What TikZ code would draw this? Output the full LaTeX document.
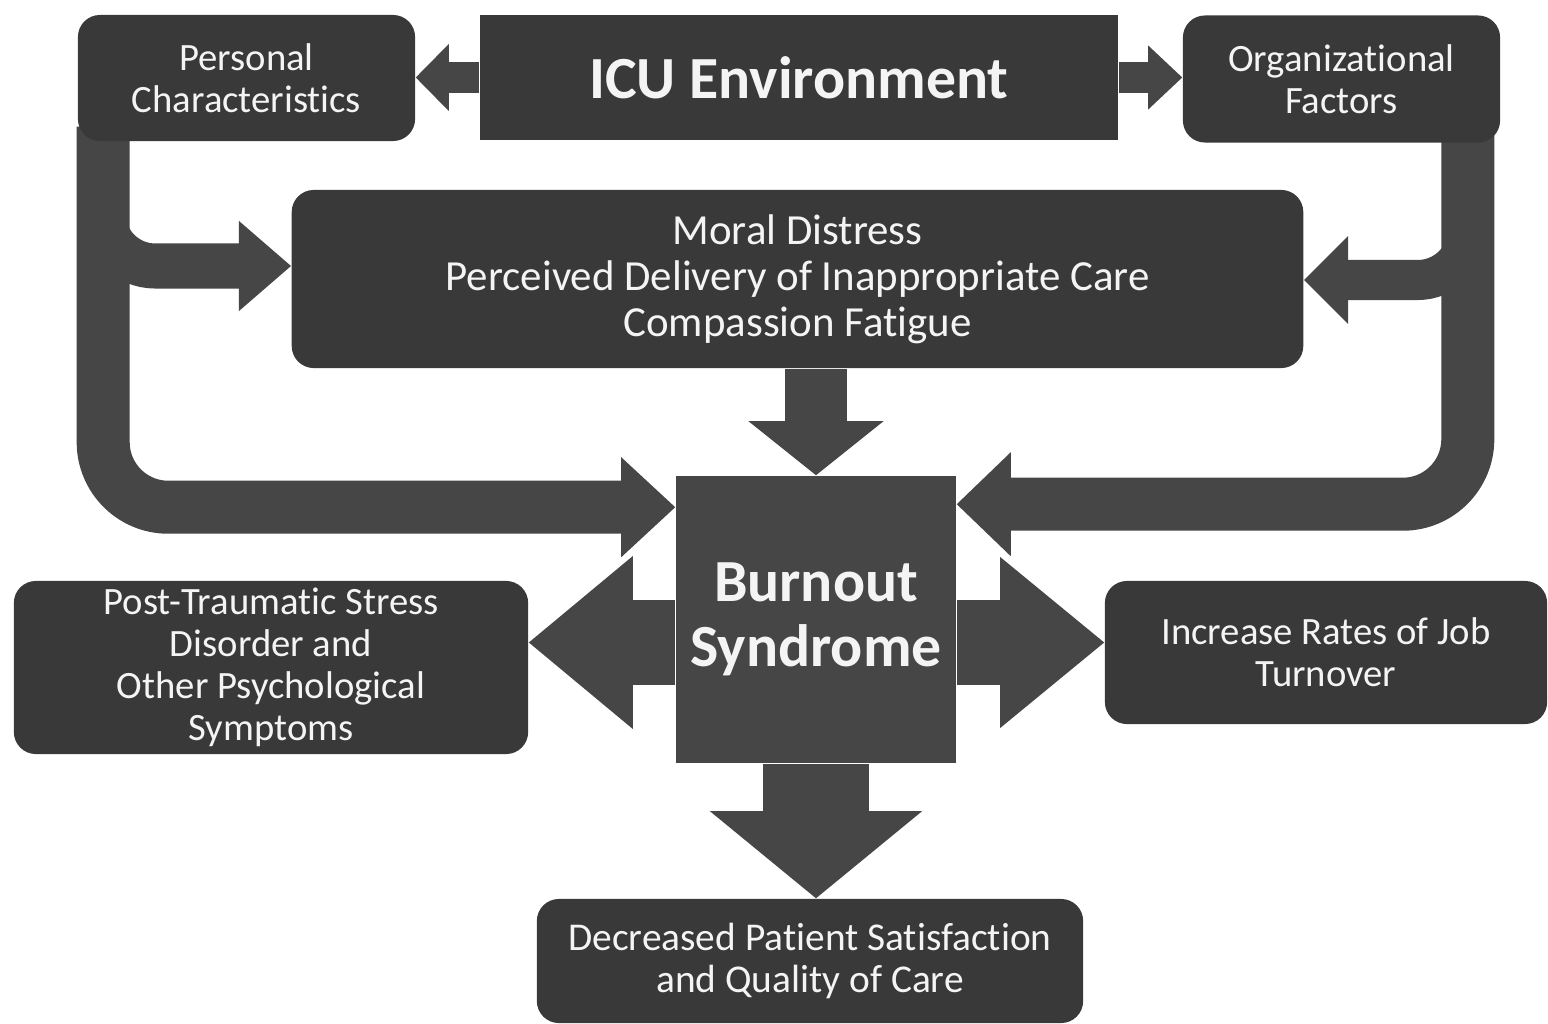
\documentclass[tikz,border=0pt]{standalone}
\usepackage{fontspec}
\setmainfont{Carlito}[Ligatures={NoCommon}]
\usetikzlibrary{arrows.meta,calc,positioning,backgrounds}
\definecolor{boxgray}{RGB}{57,57,57}
\definecolor{arrowgray}{RGB}{70,70,70}
\definecolor{textwhite}{RGB}{244,244,244}

\begin{document}
\begin{tikzpicture}[x=0.01cm,y=-0.01cm,
  box/.style={fill=boxgray,rounded corners=0.22cm,text=textwhite,align=center,inner sep=0pt},
  sqbox/.style={box,sharp corners},
  small/.style={font=\fontsize{11}{12}\selectfont},
  fat/.style n args={3}{draw=arrowgray,line width=#1,-{Triangle[length=#2,width=#3,line width=0pt]}}]
  \begin{scope}[on background layer]
    \fill[white] (0,0) rectangle (1548,1024);
  \end{scope}
  \useasboundingbox (0,0) rectangle (1548,1024);

  % top row
  \node[box,small,minimum width=3.37cm,minimum height=1.26cm] (pers) at (246.5,78) {Personal\\Characteristics};
  \node[sqbox,minimum width=6.38cm,minimum height=1.25cm,font=\fontsize{17}{18}\selectfont\bfseries] (icu) at (799,77.5) {ICU Environment};
  \node[box,small,minimum width=3.17cm,minimum height=1.27cm] (org) at (1341.5,79) {Organizational\\Factors};

  % middle
  \node[box,minimum width=10.11cm,minimum height=1.78cm,font=\fontsize{12.2}{13.1}\selectfont] (moral) at (797.5,279)
    {Moral Distress\\Perceived Delivery of Inappropriate Care\\Compassion Fatigue};
  \node[sqbox,fill=arrowgray,minimum width=2.8cm,minimum height=2.87cm,font=\fontsize{17}{18.5}\selectfont\bfseries] (burn) at (816,619.5) {Burnout\\Syndrome};

  % outcomes
  \node[box,small,minimum width=5.14cm,minimum height=1.73cm] (ptsd) at (271,667.5)
    {Post-Traumatic Stress\\Disorder and\\Other Psychological\\Symptoms};
  \node[box,small,minimum width=4.42cm,minimum height=1.43cm] (job) at (1326,652.5) {Increase Rates of Job\\Turnover};
  \node[box,minimum width=5.46cm,minimum height=1.24cm,font=\fontsize{11.2}{12.2}\selectfont] (dec) at (810,961)
    {Decreased Patient Satisfaction\\and Quality of Care};

  \coordinate (bl) at ($(burn.west)+(0,23)$);
  \coordinate (br) at ($(burn.east)+(0,23)$);

  \begin{scope}[on background layer]
    \draw[fat={0.31cm}{0.33cm}{0.67cm}] (icu.west) -- (pers.east |- icu.west);
    \draw[fat={0.31cm}{0.34cm}{0.64cm}] (icu.east) -- (org.west |- icu.east);
    % left loop and branch
    \draw[fat={0.53cm}{0.54cm}{1.0cm},rounded corners=0.65cm] ($(pers.south west)+(26,-15)$) |- ($(burn.north west)+(0,32)$);
    \draw[fat={0.45cm}{0.52cm}{0.9cm},rounded corners=0.52cm] ($(pers.south west)+(26,20)$) |- ($(moral.west)+(0,-13)$);
    % right loop and branch
    \draw[fat={0.53cm}{0.54cm}{1.04cm},rounded corners=0.65cm] ($(org.south east)+(-33,-15)$) |- ($(burn.north east)+(0,29)$);
    \draw[fat={0.40cm}{0.44cm}{0.88cm},rounded corners=0.5cm] ($(org.south east)+(-33,20)$) |- ($(moral.east)+(0,1)$);
    \draw[fat={0.62cm}{0.54cm}{1.35cm}] (moral.south -| burn.north) -- (burn.north);
    % out of burnout
    \draw[fat={0.85cm}{1.04cm}{1.73cm}] (bl) -- (ptsd.east |- bl);
    \draw[fat={0.85cm}{1.04cm}{1.71cm}] (br) -- (job.west |- br);
    \draw[fat={1.05cm}{0.87cm}{2.12cm}] (burn.south) -- (dec.north -| burn.south);
  \end{scope}
\end{tikzpicture}
\end{document}
